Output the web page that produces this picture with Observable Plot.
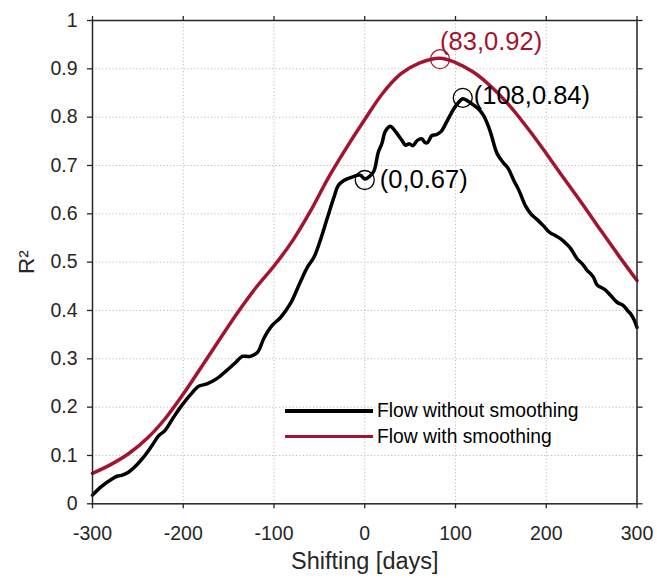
<!DOCTYPE html>
<html><head><meta charset="utf-8">
<script src="https://cdn.jsdelivr.net/npm/d3@7"></script>
<script src="https://cdn.jsdelivr.net/npm/@observablehq/plot@0.6"></script>
<style>
html,body{margin:0;padding:0;background:#fff;}
#wrap{position:relative;width:657px;height:578px;font-family:"Liberation Sans",Arial,Helvetica,sans-serif;}
#wrap svg{display:block;}
.legend{position:absolute;left:285px;top:398px;font-size:19.3px;color:#000;line-height:1;}
.legend .row{display:flex;align-items:center;height:25.7px;}
.legend .sw{width:88px;height:3.8px;margin-right:4px;}
</style></head><body><div id="wrap"></div>
<script>
// ---- data ----
const xTicks = [-300, -200, -100, 0, 100, 200, 300];
const xTickLabels = ["-300", "-200", "-100", "0", "100", "200", "300"];
const yTicks = [0, 0.1, 0.2, 0.3, 0.4, 0.5, 0.6, 0.7, 0.8, 0.9, 1];
const yTickLabels = ["0", "0.1", "0.2", "0.3", "0.4", "0.5", "0.6", "0.7", "0.8", "0.9", "1"];

const seriesNames = ["Flow without smoothing", "Flow with smoothing"];
const seriesColors = ["#000000", "#A2142F"];

const rawX = [-300,-290,-279,-273,-268,-260,-253,-244,-235,-227,-220,-211,-203,-192,-183,-174,-163,-152,-142,-135,-126,-118,-111,-102,-93,-82,-71,-63,-56,-49,-41,-34,-29,-23,-14,-5,0,5,10,15,19,22,25,28,31,36,41,45,49,53,58,63,66,69,74,79,84,91,98,104,108,113,120,126,131,135,139,146,153,158,164,170,177,183,190,197,204,210,216,222,227,234,240,245,249,252,256,260,264,271,278,285,290,293,297,300];
const rawY = [0.018,0.036,0.051,0.057,0.059,0.066,0.077,0.096,0.119,0.141,0.152,0.178,0.200,0.226,0.243,0.248,0.259,0.276,0.293,0.305,0.305,0.314,0.343,0.369,0.385,0.414,0.459,0.490,0.510,0.545,0.593,0.634,0.659,0.669,0.676,0.680,0.672,0.677,0.688,0.728,0.746,0.768,0.777,0.781,0.777,0.765,0.752,0.742,0.745,0.741,0.752,0.755,0.748,0.747,0.762,0.764,0.770,0.793,0.817,0.832,0.838,0.834,0.825,0.816,0.803,0.787,0.766,0.724,0.705,0.694,0.670,0.648,0.617,0.600,0.588,0.575,0.561,0.555,0.548,0.538,0.528,0.507,0.496,0.483,0.476,0.469,0.453,0.448,0.444,0.431,0.417,0.410,0.399,0.393,0.380,0.365];

const smoothX = [-300,-280,-260,-240,-220,-200,-180,-160,-140,-120,-100,-80,-60,-40,-20,0,20,40,60,83,100,120,140,160,180,200,220,240,260,280,300];
const smoothY = [0.063,0.081,0.104,0.135,0.176,0.227,0.283,0.340,0.396,0.447,0.492,0.543,0.605,0.675,0.737,0.795,0.850,0.890,0.912,0.922,0.913,0.893,0.862,0.823,0.776,0.725,0.672,0.620,0.566,0.513,0.462];

const markX = [0, 108, 83];
const markY = [0.67, 0.84, 0.92];
const markSeries = [0, 0, 1];
const markText = ["(0,0.67)", "(108,0.84)", "(83,0.92)"];

const xLabel = "Shifting [days]";
const yLabel = "R\u00B2";

// ---- build ----
const raw = rawX.map((x, i) => ({x, y: rawY[i]}));
const smooth = smoothX.map((x, i) => ({x, y: smoothY[i]}));
const marks = markX.map((x, i) => ({x, y: markY[i], s: markSeries[i], t: markText[i]}));

const font = '"Liberation Sans",Arial,Helvetica,sans-serif';
const axisColor = "#262626";

const chart = Plot.plot({
  width: 657, height: 578,
  marginLeft: 92, marginRight: 20.5, marginTop: 20, marginBottom: 74.7,
  style: {fontFamily: font, fontSize: "19.5px", color: axisColor, background: "#fff", overflow: "visible"},
  x: {domain: [-300, 300]},
  y: {domain: [0, 1]},
  marks: [
    Plot.gridX(xTicks, {stroke: "#bcbcbc", strokeOpacity: 1, strokeDasharray: "1.2,2.2", strokeWidth: 1}),
    Plot.gridY(yTicks, {stroke: "#bcbcbc", strokeOpacity: 1, strokeDasharray: "1.2,2.2", strokeWidth: 1}),
    Plot.line(smooth, {x: "x", y: "y", stroke: seriesColors[1], strokeWidth: 3.5, curve: "catmull-rom"}),
    Plot.line(raw, {x: "x", y: "y", stroke: seriesColors[0], strokeWidth: 3.5, curve: "catmull-rom"}),
    Plot.dot(marks, {x: "x", y: "y", r: 9.5, stroke: d => seriesColors[d.s], fill: "none", strokeWidth: 1.3}),
    Plot.text(marks.filter((d, i) => i === 0), {x: "x", y: "y", text: "t", textAnchor: "start", lineAnchor: "middle", dx: 15, dy: 0, fill: seriesColors[0], fontSize: 25.5}),
    Plot.text(marks.filter((d, i) => i === 1), {x: "x", y: "y", text: "t", textAnchor: "start", lineAnchor: "middle", dx: 11, dy: -2, fill: seriesColors[0], fontSize: 25.5}),
    Plot.text(marks.filter((d, i) => i === 2), {x: "x", y: "y", text: "t", textAnchor: "start", lineAnchor: "middle", dx: 0, dy: -17, fill: seriesColors[1], fontSize: 25.5}),
    Plot.frame({stroke: axisColor, strokeWidth: 1.5}),
    Plot.axisX(xTicks, {anchor: "bottom", tickSize: 5, tickPadding: 17, tickFormat: d => xTickLabels[xTicks.indexOf(d)], label: null, stroke: axisColor, strokeWidth: 1.3, fill: axisColor}),
    Plot.axisX(xTicks, {anchor: "top", tickSize: 5, tickFormat: () => "", label: null, stroke: axisColor, strokeWidth: 1.3}),
    Plot.axisY(yTicks, {anchor: "left", tickSize: 5, tickPadding: 10, tickFormat: d => yTickLabels[yTicks.indexOf(d)], label: null, stroke: axisColor, strokeWidth: 1.3, fill: axisColor}),
    Plot.axisY(yTicks, {anchor: "right", tickSize: 5, tickFormat: () => "", label: null, stroke: axisColor, strokeWidth: 1.3}),
    Plot.text([xLabel], {frameAnchor: "bottom", text: d => d, lineAnchor: "top", dy: 49, fontSize: 23.5, fill: axisColor}),
    Plot.text([yLabel], {frameAnchor: "left", text: d => d, rotate: -90, lineAnchor: "bottom", textAnchor: "middle", dx: -59, fontSize: 22.5, fill: axisColor})
  ]
});

const wrap = document.getElementById("wrap");
wrap.appendChild(chart);

const legend = document.createElement("div");
legend.className = "legend";
seriesNames.forEach((name, i) => {
  const row = document.createElement("div");
  row.className = "row";
  const sw = document.createElement("div");
  sw.className = "sw";
  sw.style.background = seriesColors[i];
  const label = document.createElement("span");
  label.textContent = name;
  row.appendChild(sw);
  row.appendChild(label);
  legend.appendChild(row);
});
wrap.appendChild(legend);
</script>
</body></html>
